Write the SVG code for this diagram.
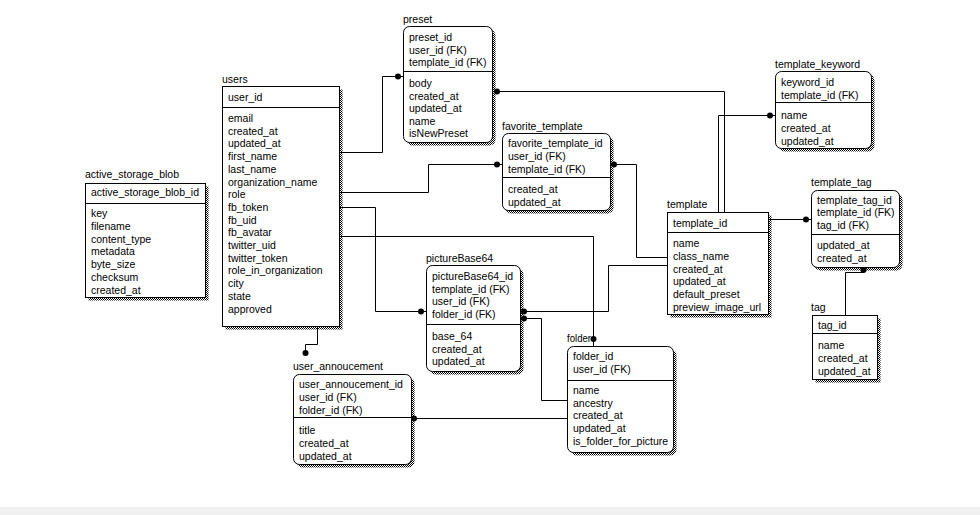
<svg xmlns="http://www.w3.org/2000/svg" width="980" height="515" viewBox="0 0 980 515">
<defs>
<pattern id="dither" width="2" height="2" patternUnits="userSpaceOnUse">
<rect width="2" height="2" fill="#fff"/>
<rect width="1" height="1" fill="#000"/>
<rect x="1" y="1" width="1" height="1" fill="#000"/>
</pattern>
</defs>
<style>
text{font-family:"Liberation Sans",Arial,sans-serif;font-size:10.5px;fill:#000}
.box{fill:#fff;stroke:#000;stroke-width:1}
.sh{fill:url(#dither)}
.sep{stroke:#000;stroke-width:1}
.conn path{fill:none;stroke:#000;stroke-width:1}
.conn circle{fill:#000}
</style>
<rect width="980" height="515" fill="#fff"/>
<rect y="507" width="980" height="8" fill="#f0f0f0"/>

<g id="active_storage_blob">
<text x="85" y="178">active_storage_blob</text>
<rect class="sh" x="88.5" y="186.5" width="120" height="114"/>
<rect class="box" x="85.5" y="183.5" width="120" height="114"/>
<line class="sep" x1="85.5" y1="203.5" x2="205.5" y2="203.5"/>
<text x="91" y="196">active_storage_blob_id</text>
<text x="91" y="217">key</text>
<text x="91" y="230">filename</text>
<text x="91" y="243">content_type</text>
<text x="91" y="255">metadata</text>
<text x="91" y="268">byte_size</text>
<text x="91" y="281">checksum</text>
<text x="91" y="294">created_at</text>
</g>

<g id="users">
<text x="222" y="83">users</text>
<rect class="sh" x="225.5" y="89.5" width="117" height="240"/>
<rect class="box" x="222.5" y="86.5" width="117" height="240"/>
<line class="sep" x1="222.5" y1="107.5" x2="339.5" y2="107.5"/>
<text x="228" y="101">user_id</text>
<text x="228" y="122">email</text>
<text x="228" y="134.7">created_at</text>
<text x="228" y="147.4">updated_at</text>
<text x="228" y="160.1">first_name</text>
<text x="228" y="172.8">last_name</text>
<text x="228" y="185.5">organization_name</text>
<text x="228" y="198.2">role</text>
<text x="228" y="210.9">fb_token</text>
<text x="228" y="223.6">fb_uid</text>
<text x="228" y="236.3">fb_avatar</text>
<text x="228" y="249">twitter_uid</text>
<text x="228" y="261.7">twitter_token</text>
<text x="228" y="274.4">role_in_organization</text>
<text x="228" y="287.1">city</text>
<text x="228" y="299.8">state</text>
<text x="228" y="312.5">approved</text>
</g>

<g id="preset">
<text x="403" y="23">preset</text>
<rect class="sh" x="406.5" y="29.5" width="89" height="116" rx="6"/>
<rect class="box" x="403.5" y="26.5" width="89" height="116" rx="6"/>
<line class="sep" x1="403.5" y1="71.5" x2="492.5" y2="71.5"/>
<text x="409" y="41">preset_id</text>
<text x="409" y="53.5">user_id (FK)</text>
<text x="409" y="66">template_id (FK)</text>
<text x="409" y="87">body</text>
<text x="409" y="99.5">created_at</text>
<text x="409" y="112">updated_at</text>
<text x="409" y="124.5">name</text>
<text x="409" y="137">isNewPreset</text>
</g>

<g id="favorite_template">
<text x="502" y="130">favorite_template</text>
<rect class="sh" x="505.5" y="136.5" width="108" height="77" rx="6"/>
<rect class="box" x="502.5" y="133.5" width="108" height="77" rx="6"/>
<line class="sep" x1="502.5" y1="177.5" x2="610.5" y2="177.5"/>
<text x="508" y="147">favorite_template_id</text>
<text x="508" y="160">user_id (FK)</text>
<text x="508" y="173">template_id (FK)</text>
<text x="508" y="193">created_at</text>
<text x="508" y="206">updated_at</text>
</g>

<g id="template">
<text x="667" y="208">template</text>
<rect class="sh" x="670.5" y="215.5" width="101" height="102"/>
<rect class="box" x="667.5" y="212.5" width="101" height="102"/>
<line class="sep" x1="667.5" y1="232.5" x2="768.5" y2="232.5"/>
<text x="673" y="227">template_id</text>
<text x="673" y="247">name</text>
<text x="673" y="260">class_name</text>
<text x="673" y="273">created_at</text>
<text x="673" y="285">updated_at</text>
<text x="673" y="298">default_preset</text>
<text x="673" y="311">preview_image_url</text>
</g>

<g id="template_keyword">
<text x="775" y="68">template_keyword</text>
<rect class="sh" x="778.5" y="74.5" width="96" height="77" rx="6"/>
<rect class="box" x="775.5" y="71.5" width="96" height="77" rx="6"/>
<line class="sep" x1="775.5" y1="102.5" x2="871.5" y2="102.5"/>
<text x="781" y="86">keyword_id</text>
<text x="781" y="99">template_id (FK)</text>
<text x="781" y="119">name</text>
<text x="781" y="132">created_at</text>
<text x="781" y="145">updated_at</text>
</g>

<g id="template_tag">
<text x="811" y="186">template_tag</text>
<rect class="sh" x="814.5" y="193.5" width="88" height="77" rx="6"/>
<rect class="box" x="811.5" y="190.5" width="88" height="77" rx="6"/>
<line class="sep" x1="811.5" y1="234.5" x2="899.5" y2="234.5"/>
<text x="817" y="204">template_tag_id</text>
<text x="817" y="216">template_id (FK)</text>
<text x="817" y="229">tag_id (FK)</text>
<text x="817" y="249">updated_at</text>
<text x="817" y="262">created_at</text>
</g>

<g id="tag">
<text x="811" y="311">tag</text>
<rect class="sh" x="815.5" y="318.5" width="65" height="64"/>
<rect class="box" x="812.5" y="315.5" width="65" height="64"/>
<line class="sep" x1="812.5" y1="333.5" x2="877.5" y2="333.5"/>
<text x="818" y="329">tag_id</text>
<text x="818" y="349">name</text>
<text x="818" y="362">created_at</text>
<text x="818" y="375">updated_at</text>
</g>

<g id="pictureBase64">
<text x="426" y="262">pictureBase64</text>
<rect class="sh" x="429.5" y="268.5" width="94" height="106" rx="6"/>
<rect class="box" x="426.5" y="265.5" width="94" height="106" rx="6"/>
<line class="sep" x1="426.5" y1="324.5" x2="520.5" y2="324.5"/>
<text x="432" y="280">pictureBase64_id</text>
<text x="432" y="292.5">template_id (FK)</text>
<text x="432" y="305">user_id (FK)</text>
<text x="432" y="317.5">folder_id (FK)</text>
<text x="432" y="340">base_64</text>
<text x="432" y="352.5">created_at</text>
<text x="432" y="365">updated_at</text>
</g>

<g id="user_annoucement">
<text x="293" y="370">user_annoucement</text>
<rect class="sh" x="296.5" y="377.5" width="118" height="90" rx="6"/>
<rect class="box" x="293.5" y="374.5" width="118" height="90" rx="6"/>
<line class="sep" x1="293.5" y1="417.5" x2="411.5" y2="417.5"/>
<text x="299" y="388">user_annoucement_id</text>
<text x="299" y="401">user_id (FK)</text>
<text x="299" y="414">folder_id (FK)</text>
<text x="299" y="434">title</text>
<text x="299" y="447">created_at</text>
<text x="299" y="460">updated_at</text>
</g>

<g id="folder">
<text x="567" y="342" textLength="24" lengthAdjust="spacingAndGlyphs">folder</text>
<rect class="sh" x="570.5" y="349.5" width="106" height="106" rx="6"/>
<rect class="box" x="567.5" y="346.5" width="106" height="106" rx="6"/>
<line class="sep" x1="567.5" y1="380.5" x2="673.5" y2="380.5"/>
<text x="573" y="360">folder_id</text>
<text x="573" y="373">user_id (FK)</text>
<text x="573" y="394">name</text>
<text x="573" y="407">ancestry</text>
<text x="573" y="419">created_at</text>
<text x="573" y="432">updated_at</text>
<text x="573" y="445">is_folder_for_picture</text>
</g>

<g class="conn" id="connectors">
<path d="M340,152.5 H382.5 V76.5 H403"/>
<circle cx="398" cy="76.5" r="3"/>
<path d="M340,192.5 H428.5 V164.5 H502"/>
<circle cx="497" cy="164.5" r="3"/>
<path d="M340,207.5 H375.5 V311.5 H426"/>
<circle cx="421" cy="311.5" r="3"/>
<path d="M340,236.5 H593.5 V346"/>
<circle cx="593.5" cy="339" r="3"/>
<path d="M317.5,327 V344.5 H305.5 V353"/>
<circle cx="305.5" cy="353" r="3"/>
<path d="M411,418.5 H567"/>
<circle cx="414" cy="418.5" r="3"/>
<path d="M521,318.5 H541.5 V400.5 H567"/>
<circle cx="524" cy="318.5" r="3"/>
<path d="M521,311.5 H608.5 V265.5 H667"/>
<circle cx="524" cy="311.5" r="3"/>
<path d="M611,164.5 H636.5 V257.5 H667"/>
<circle cx="614" cy="164.5" r="3"/>
<path d="M493,91.5 H724.5 V212"/>
<circle cx="497" cy="91.5" r="3"/>
<path d="M718.5,212 V115.5 H775"/>
<circle cx="770" cy="115.5" r="3"/>
<path d="M769,219.5 H811"/>
<circle cx="806" cy="219.5" r="3"/>
<path d="M845.5,315 V272.5 H863.5 V268"/>
<circle cx="863.5" cy="270" r="3"/>
</g>
</svg>
